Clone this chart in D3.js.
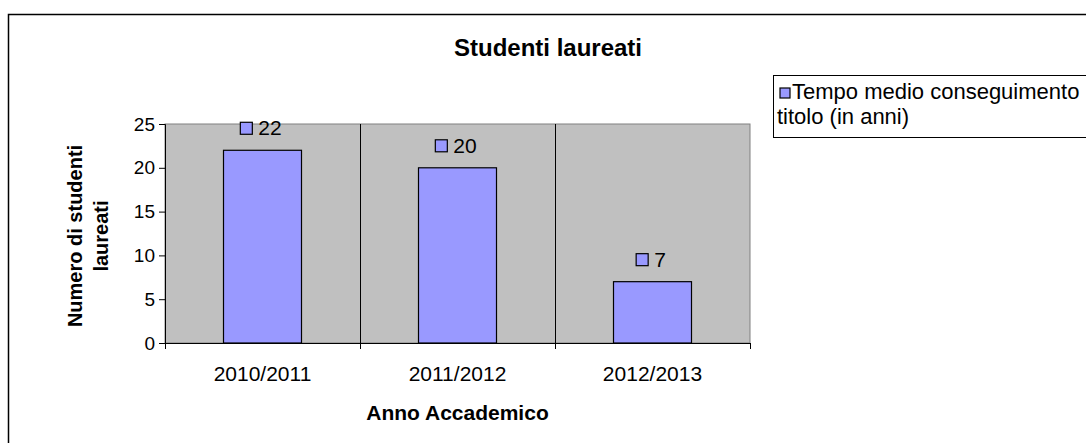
<!DOCTYPE html>
<html>
<head>
<meta charset="utf-8">
<script src="https://cdn.jsdelivr.net/npm/d3@7"></script>
<style>
  body { margin: 0; background: #fff; }
  svg { font-family: "Liberation Sans", Arial, sans-serif; }
</style>
</head>
<body>
<div id="chart"></div>
<script>
// data
var categories = ["2010/2011", "2011/2012", "2012/2013"];
var values = [22, 20, 7];
var yTicks = [0, 5, 10, 15, 20, 25];
var seriesName = ["Tempo medio conseguimento", "titolo (in anni)"];

var W = 1086, H = 443;
var margin = {top: 124, left: 165};
var plotW = 585, plotH = 219;
var FONT = "Liberation Sans, Arial, sans-serif";

var svg = d3.select("#chart").append("svg")
  .attr("width", W)
  .attr("height", H);

// outer border (runs off the picture on right and bottom)
svg.append("rect")
  .attr("x", 8.5).attr("y", 14.5)
  .attr("width", 1100).attr("height", 460)
  .attr("fill", "#fff")
  .attr("stroke", "#000")
  .attr("stroke-width", 1.5);

var g = svg.append("g")
  .attr("transform", "translate(" + margin.left + "," + margin.top + ")");

var x = d3.scaleBand()
  .domain(categories)
  .range([0, plotW]);

var y = d3.scaleLinear()
  .domain([0, 25])
  .range([plotH, 0]);

// plot area
g.append("rect")
  .attr("width", plotW).attr("height", plotH)
  .attr("fill", "#c0c0c0")
  .attr("stroke", "#808080")
  .attr("stroke-width", 1);

// category dividers
g.selectAll(".divider")
  .data(categories.slice(1))
  .enter().append("line")
  .attr("x1", function(d) { return x(d) + 0.5; })
  .attr("x2", function(d) { return x(d) + 0.5; })
  .attr("y1", 0).attr("y2", plotH)
  .attr("stroke", "#000");

// bars
var barW = x.bandwidth() * 0.4;
g.selectAll(".bar")
  .data(values)
  .enter().append("rect")
  .attr("x", function(d, i) { return x(categories[i]) + (x.bandwidth() - barW) / 2; })
  .attr("y", function(d) { return y(d); })
  .attr("width", barW)
  .attr("height", function(d) { return plotH - y(d); })
  .attr("fill", "#9999ff")
  .attr("stroke", "#000")
  .attr("stroke-width", 1.2);

// data labels with legend key
var lab = g.selectAll(".lab")
  .data(values)
  .enter().append("g")
  .attr("transform", function(d, i) {
    return "translate(" + (x(categories[i]) + x.bandwidth() / 2 - 1.5) + "," + (y(d) - 22) + ")";
  });
var labText = lab.append("text")
  .attr("y", 7)
  .attr("font-size", "21px")
  .text(function(d) { return d; });
labText.each(function() {
  var tw = this.getComputedTextLength();
  var w = 12 + 6 + tw;
  d3.select(this).attr("x", -w / 2 + 18);
  d3.select(this.parentNode).insert("rect", "text")
    .attr("x", -w / 2)
    .attr("y", -6).attr("width", 12).attr("height", 12)
    .attr("fill", "#9999ff").attr("stroke", "#000").attr("stroke-width", 1.2);
});

// y axis
var yAxis = g.append("g")
  .call(d3.axisLeft(y).tickValues(yTicks).tickSize(6).tickPadding(4));
yAxis.select(".domain").attr("stroke", "#000");
yAxis.selectAll("text").attr("font-size", "19px").attr("font-family", FONT).attr("fill", "#000");

// x axis
var xAxis = g.append("g")
  .attr("transform", "translate(0," + plotH + ")")
  .call(d3.axisBottom(x).tickSize(0).tickPadding(23));
xAxis.select(".domain").attr("stroke", "#000");
xAxis.selectAll("text").attr("font-size", "21px").attr("font-family", FONT).attr("fill", "#000");
xAxis.selectAll(".sep")
  .data(categories.concat(["end"]))
  .enter().append("line")
  .attr("x1", function(d, i) { return i * x.step() + 0.5; })
  .attr("x2", function(d, i) { return i * x.step() + 0.5; })
  .attr("y1", 0).attr("y2", 6)
  .attr("stroke", "#000");

// title
svg.append("text")
  .attr("x", 548).attr("y", 56)
  .attr("text-anchor", "middle")
  .attr("font-size", "24px").attr("font-weight", "bold")
  .text("Studenti laureati");

// axis titles
svg.append("text")
  .attr("x", margin.left + plotW / 2).attr("y", 420)
  .attr("text-anchor", "middle")
  .attr("font-size", "21px").attr("font-weight", "bold")
  .text("Anno Accademico");

var yt = svg.append("text")
  .attr("transform", "translate(82,236) rotate(-90)")
  .attr("text-anchor", "middle")
  .attr("font-size", "20px").attr("font-weight", "bold");
yt.append("tspan").attr("x", 0).attr("y", 0).text("Numero di studenti");
yt.append("tspan").attr("x", 0).attr("y", 26).text("laureati");

// legend
var leg = svg.append("g").attr("transform", "translate(773,75)");
leg.append("rect")
  .attr("x", 0.5).attr("y", 0.5)
  .attr("width", 400).attr("height", 62)
  .attr("fill", "#fff").attr("stroke", "#000");
leg.append("rect")
  .attr("x", 7).attr("y", 13).attr("width", 10).attr("height", 10)
  .attr("fill", "#9999ff").attr("stroke", "#000").attr("stroke-width", 1.2);
leg.selectAll(".lt")
  .data(seriesName)
  .enter().append("text")
  .attr("x", function(d, i) { return i === 0 ? 19 : 4; })
  .attr("y", function(d, i) { return 24 + i * 25; })
  .attr("font-size", "22px")
  .text(function(d) { return d; });
</script>
</body>
</html>
